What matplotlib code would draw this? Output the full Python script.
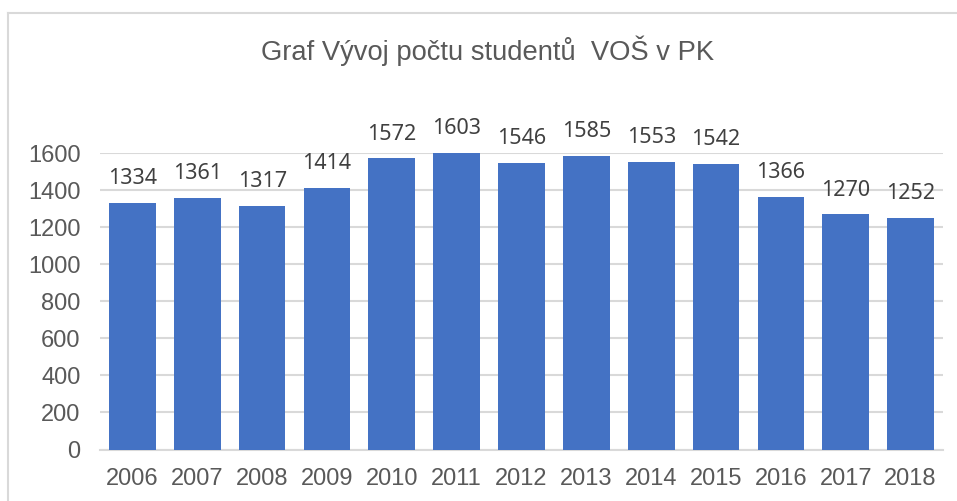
"""
Bar chart: Graf Vývoj počtu studentů VOŠ v PK.
"""
import matplotlib
matplotlib.use("Agg")
import matplotlib.pyplot as plt
from matplotlib.lines import Line2D

years = ["2006", "2007", "2008", "2009", "2010", "2011", "2012",
         "2013", "2014", "2015", "2016", "2017", "2018"]
students = [1334, 1361, 1317, 1414, 1572, 1603, 1546,
            1585, 1553, 1542, 1366, 1270, 1252]
yticks = [0, 200, 400, 600, 800, 1000, 1200, 1400, 1600]
title = "Graf Vývoj počtu studentů  VOŠ v PK"

bar_color = "#4472C4"
grid_color = "#d9d9d9"
text_color = "#595959"

W, H = 957, 501
fig = plt.figure(figsize=(W / 100, H / 100), dpi=100)
ax = fig.add_axes([100 / W, 1 - 449.5 / H, 843 / W, (449.5 - 153.3) / H])

xs = range(len(years))
ax.bar(xs, students, width=0.72, color=bar_color, zorder=3)
ax.set_xlim(-0.5, len(years) - 0.5)
ax.set_ylim(0, 1600)

# data labels above bars
for x, v in zip(xs, students):
    ax.annotate(str(v), (x, v), xytext=(0, 10), textcoords="offset points",
                ha="center", va="bottom", fontsize=15.5, color="#404040",
                family="Noto Sans", annotation_clip=False)

ax.set_xticks(list(xs))
ax.set_xticklabels(years)
ax.set_yticks(yticks)
ax.tick_params(axis="both", length=0, labelsize=17, labelcolor=text_color)
ax.tick_params(axis="x", pad=13)
ax.tick_params(axis="y", pad=14)
for lab in ax.get_xticklabels() + ax.get_yticklabels():
    lab.set_family("Liberation Sans")

ax.yaxis.grid(True, color=grid_color, lw=1.5, zorder=0)
for s in ["top", "right", "left"]:
    ax.spines[s].set_visible(False)
ax.spines["bottom"].set_color(grid_color)
ax.spines["bottom"].set_linewidth(1.5)

fig.text(488 / W, 1 - 51 / H, title, ha="center", va="center",
         fontsize=19.7, color=text_color, family="Liberation Sans")

# chart frame (left and top edge visible)
fig.add_artist(Line2D([8 / W, 8 / W], [0, 1 - 13 / H], color=grid_color, lw=1.5))
fig.add_artist(Line2D([8 / W, 1], [1 - 13 / H, 1 - 13 / H], color=grid_color, lw=1.5))

fig.savefig("out.png", dpi=100)
